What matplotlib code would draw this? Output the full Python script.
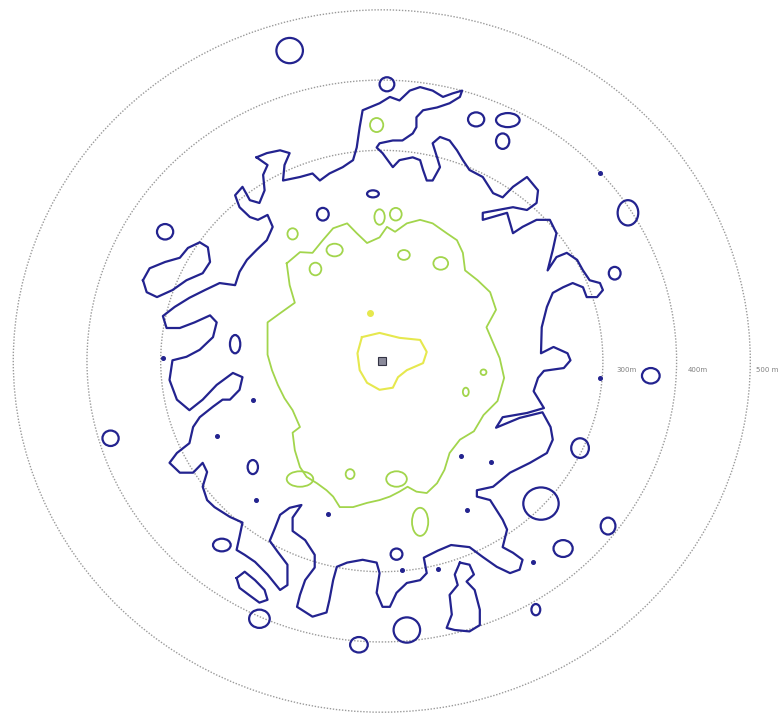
import matplotlib
matplotlib.use("Agg")
import matplotlib.pyplot as plt
from matplotlib.patches import Ellipse

# ---- data (metres from source, x = east, y = north) ----
ring_radii = [300, 400, 500]
ring_labels = ["300m", "400m", "500 m"]
ring_label_x = [319, 415, 508]

# yellow (innermost) contour
yellow_x = [-27, -3, 24, 52, 61, 56, 34, 22, 15, -3, -20, -30, -33]
yellow_y = [34, 40, 33, 30, 13, -3, -13, -23, -38, -41, -31, -13, 11]
yellow_spot_x = [-16]
yellow_spot_y = [69]

# green (middle) contour
green_x = [-129, -111, -94, -80, -66, -47, -34, -20, -3, 7, 18, 34, 52, 69, 88, 102, 110, 113,
           130, 147, 155, 142, 151, 160, 166, 157, 138, 125, 106, 92, 85, 75, 61, 47, 35, 24,
           11, -3, -20, -39, -57, -66, -75, -88, -102, -111, -118, -121, -111, -121, -132,
           -141, -149, -155, -155, -155, -138, -118, -125]
green_y = [139, 155, 154, 172, 189, 196, 182, 168, 176, 191, 184, 196, 201, 196, 182, 172, 154, 129,
           115, 98, 73, 48, 26, 4, -24, -57, -77, -100, -112, -131, -155, -174, -188, -186, -179, -186,
           -193, -198, -202, -208, -208, -193, -184, -174, -165, -151, -127, -102, -94, -70, -53,
           -34, -13, 9, 30, 55, 68, 83, 108]
green_isl_x = [-7, -3, 19, -121, -64, -90, 30, 80, -43, 52, -111, 20, 138, 114]
green_isl_y = [336, 205, 209, 181, 158, 131, 151, 139, -161, -229, -168, -168, -16, -44]
green_isl_rx = [9, 7, 8, 7, 11, 8, 8, 10, 6, 11, 18, 14, 4, 4]
green_isl_ry = [10, 11, 9, 8, 9, 9, 7, 9, 7, 20, 11, 11, 4, 6]

# blue (outer) contour
blue_x = [-170, -156, -138, -125, -132, -134, -111, -94, -84, -71, -53, -39, -34, -30, -26, -3, 11, 24,
          38, 52, 69, 83, 96, 109, 106, 92, 75, 56, 47, 47, 42, 28, 15, -3, -7, 1, 15, 24, 42, 52,
          56, 61, 69, 79, 75, 69, 79, 92, 102, 110, 119, 137, 151, 164, 178, 197, 212, 210, 197,
          178, 137, 137, 170, 178, 191, 210, 228, 237, 232, 225, 237, 251, 265, 273, 282, 296, 300,
          292, 278, 273, 259, 246, 232, 224, 217, 216, 233, 252, 256, 247, 220, 212, 206, 220, 197,
          164, 155, 164, 187, 218, 229, 232, 224, 201, 174, 151, 129, 129, 147, 164, 170, 164, 178,
          191, 187, 174, 156, 137, 119, 94, 76, 57, 61, 52, 34, 20, 11, 1, -7, -3, -7, -26, -47,
          -61, -66, -71, -75, -94, -115, -111, -104, -91, -91, -104, -121, -121, -109, -125, -138,
          -145, -152, -141, -128, -128, -138, -155, -172, -186, -197, -193, -189, -206, -227, -237,
          -243, -237, -243, -256, -274, -288, -278, -261, -256, -247, -229, -216, -206, -193, -189,
          -202, -224, -243, -261, -278, -288, -284, -265, -247, -229, -224, -233, -254, -274, -292,
          -297, -281, -261, -240, -220, -199, -193, -183, -170, -156, -148, -155, -168, -179, -193,
          -199, -189, -179, -166, -159, -161, -155]
blue_y = [290, 296, 300, 296, 279, 257, 262, 267, 257, 267, 276, 286, 304, 333, 357, 367, 376, 371,
          385, 390, 385, 376, 381, 385, 376, 367, 361, 357, 347, 333, 324, 314, 314, 310, 304, 296,
          276, 286, 290, 286, 272, 257, 257, 276, 290, 310, 319, 314, 300, 286, 272, 262, 239, 233,
          248, 262, 243, 225, 215, 219, 211, 201, 211, 182, 191, 201, 201, 182, 158, 129, 148, 154,
          144, 129, 115, 111, 101, 91, 91, 105, 111, 105, 97, 77, 48, 11, 20, 11, 1, -10, -14, -24,
          -43, -67, -74, -80, -95, -91, -81, -73, -94, -112, -131, -145, -159, -179, -184, -193,
          -198, -226, -240, -265, -273, -283, -297, -302, -293, -279, -265, -262, -270, -280, -302,
          -312, -316, -330, -350, -350, -330, -302, -287, -283, -287, -293, -312, -340, -358, -364,
          -350, -333, -312, -294, -276, -255, -242, -223, -205, -209, -219, -238, -256, -272, -290,
          -319, -326, -304, -286, -276, -269, -250, -230, -222, -208, -198, -179, -158, -145, -159,
          -159, -145, -131, -117, -94, -80, -65, -55, -55, -41, -23, -17, -34, -55, -70, -55, -27,
          1, 6, 16, 34, 55, 65, 55, 47, 47, 64, 77, 90, 101, 111, 108, 127, 144, 158, 172, 191, 208,
          201, 205, 219, 236, 248, 229, 225, 243, 265, 279]

# separate closed blue loops
loop1_x = [-324, -315, -294, -274, -263, -247, -236, -233, -243, -265, -284, -305, -319]
loop1_y = [115, 132, 141, 147, 161, 169, 162, 141, 125, 115, 101, 91, 98]
loop2_x = [106, 119, 125, 115, 126, 133, 133, 119, 99, 88, 95, 92, 103, 99]
loop2_y = [-287, -290, -304, -314, -326, -354, -376, -385, -383, -380, -361, -333, -319, -304]
loop3_x = [-197, -186, -172, -159, -155, -166, -179, -193]
loop3_y = [-309, -300, -312, -326, -340, -344, -334, -323]

blue_isl_x = [-125, -294, 7, 128, 171, 164, 334, 316, -368, 365, 269, 216, 307, 246, 209, 34,
              -31, -166, -217, 20, -199, -80, -12, -175]
blue_isl_y = [442, 184, 394, 344, 343, 313, 211, 125, -110, -21, -124, -203, -235, -267, -354,
              -383, -404, -367, -262, -275, 24, 209, 238, -151]
blue_isl_rx = [18, 11, 10, 11, 16, 9, 14, 8, 11, 12, 12, 24, 10, 13, 6, 18, 12, 14, 12, 8, 7, 8, 8, 7]
blue_isl_ry = [18, 11, 10, 10, 10, 11, 18, 9, 11, 11, 14, 23, 12, 12, 8, 18, 11, 13, 9, 8, 13, 9, 5, 10]

blue_dot_x = [-175, -224, -170, -73, 107, 148, 115, 205, 27, 76, 296, 296, -297]
blue_dot_y = [-55, -107, -198, -218, -135, -144, -212, -286, -297, -296, -24, 267, 4]

source_x = [0]
source_y = [0]

# ---- styles ----
BLUE = "#23238f"
GREEN = "#a2d54c"
YELLOW = "#e6e84e"
RING = "#9a9a9a"

fig = plt.figure(figsize=(7.82, 7.15), dpi=100)
ax = fig.add_axes([0, 0, 1, 1])
ax.set_xlim(-518, 543)
ax.set_ylim(-504, 514)
ax.axis("off")

for r, lab, lx in zip(ring_radii, ring_labels, ring_label_x):
    ax.add_patch(Ellipse((0, 0), 2 * r, 2 * r, fill=False, ec=RING, lw=1.0,
                         ls=(0, (1, 1.2)), zorder=1))
    ax.text(lx, -13, lab, fontsize=5.0, color="#808080", ha="left", va="center", zorder=1)

def closed(xs, ys):
    return list(xs) + [xs[0]], list(ys) + [ys[0]]

# blue
bx, by = closed(blue_x, blue_y)
ax.plot(bx, by, color=BLUE, lw=1.6, solid_joinstyle="round", zorder=3)
for lx, ly in [(loop1_x, loop1_y), (loop2_x, loop2_y), (loop3_x, loop3_y)]:
    cx, cy = closed(lx, ly)
    ax.plot(cx, cy, color=BLUE, lw=1.6, solid_joinstyle="round", zorder=3)
for x, y, rx, ry in zip(blue_isl_x, blue_isl_y, blue_isl_rx, blue_isl_ry):
    ax.add_patch(Ellipse((x, y), 2 * rx, 2 * ry, fill=False, ec=BLUE, lw=1.6, zorder=3))
ax.plot(blue_dot_x, blue_dot_y, "o", color=BLUE, ms=2.6, zorder=3)

# green
gx, gy = closed(green_x, green_y)
ax.plot(gx, gy, color=GREEN, lw=1.3, solid_joinstyle="round", zorder=2)
for x, y, rx, ry in zip(green_isl_x, green_isl_y, green_isl_rx, green_isl_ry):
    ax.add_patch(Ellipse((x, y), 2 * rx, 2 * ry, fill=False, ec=GREEN, lw=1.3, zorder=2))

# yellow
yx, yy = closed(yellow_x, yellow_y)
ax.plot(yx, yy, color=YELLOW, lw=1.5, solid_joinstyle="round", zorder=2)
ax.plot(yellow_spot_x, yellow_spot_y, "o", color=YELLOW, ms=4, zorder=2)

# source marker
ax.plot(source_x, source_y, "s", ms=5.5, mfc="#8a8a9a", mec="#333344", mew=0.8, zorder=4)

fig.savefig("out.png", dpi=100)
